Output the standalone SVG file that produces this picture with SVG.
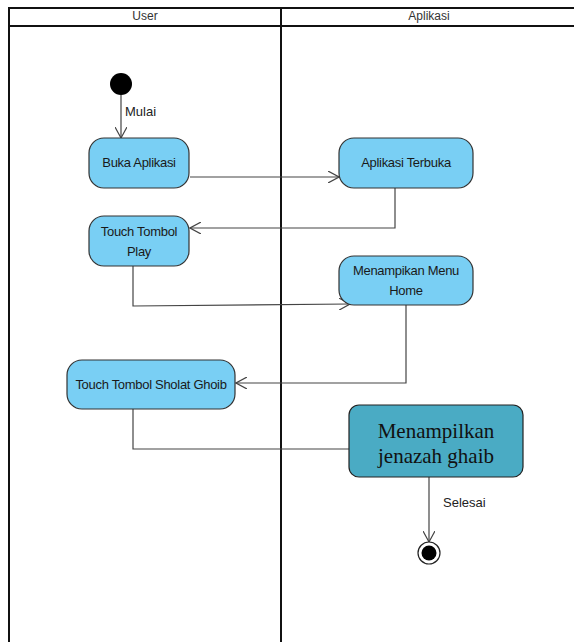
<svg xmlns="http://www.w3.org/2000/svg" width="574" height="642" viewBox="0 0 574 642">
<style>
.lane{fill:none;stroke:#111;stroke-width:2}
.lt{font-family:"Liberation Sans",Arial,sans-serif;font-size:12px;fill:#333;text-anchor:middle}
.node{fill:#79cff4;stroke:#333;stroke-width:1.2}
.nt{font-family:"Liberation Sans",Arial,sans-serif;font-size:13px;fill:#1a1a1a;text-anchor:middle;letter-spacing:-0.3px}
.big{fill:#4aabc4;stroke:#222;stroke-width:1.2}
.bt{font-family:"Liberation Serif","Times New Roman",serif;font-size:21px;fill:#111;text-anchor:middle}
.c{fill:none;stroke:#444;stroke-width:1.2}
.lbl{font-family:"Liberation Sans",Arial,sans-serif;font-size:13px;fill:#222}
</style>
<defs>
<marker id="open" viewBox="0 0 12 12" refX="11" refY="6" markerWidth="12" markerHeight="12" markerUnits="userSpaceOnUse" orient="auto">
<path d="M0,0 L11,6 L0,12" fill="none" stroke="#444" stroke-width="1.2"/>
</marker>
</defs>
<rect width="574" height="642" fill="#fff"/>
<g id="swimlanes">
<path class="lane" d="M9,642 V8 H576 M9,26 H576 M281,8 V642"/>
<text class="lt" x="145" y="20">User</text>
<text class="lt" x="429" y="20">Aplikasi</text>
</g>
<g id="connectors">
<path class="c" d="M121,95 V138" marker-end="url(#open)"/>
<path class="c" d="M190,177 H339" marker-end="url(#open)"/>
<path class="c" d="M395,188 V228 H190" marker-end="url(#open)"/>
<path class="c" d="M133,266 V306 L350,304" marker-end="url(#open)"/>
<path class="c" d="M406,305 V383 H236" marker-end="url(#open)"/>
<path class="c" d="M133,409 V449 H349"/>
<path class="c" d="M429,477 V542" marker-end="url(#open)"/>
<text class="lbl" x="125" y="116">Mulai</text>
<text class="lbl" x="443" y="507">Selesai</text>
</g>
<g id="start"><circle cx="121" cy="84" r="11" fill="#000"/></g>
<g id="buka-aplikasi">
<rect class="node" x="89" y="138" width="100" height="50" rx="15"/>
<text class="nt" x="139" y="167">Buka Aplikasi</text>
</g>
<g id="aplikasi-terbuka">
<rect class="node" x="339" y="138" width="134" height="50" rx="15"/>
<text class="nt" x="406" y="167">Aplikasi Terbuka</text>
</g>
<g id="touch-play">
<rect class="node" x="89" y="216" width="100" height="50" rx="15"/>
<text class="nt" x="139" y="236">Touch Tombol</text>
<text class="nt" x="139" y="256">Play</text>
</g>
<g id="menu-home">
<rect class="node" x="339" y="256" width="134" height="49" rx="15"/>
<text class="nt" x="406" y="275">Menampikan Menu</text>
<text class="nt" x="406" y="295">Home</text>
</g>
<g id="touch-sholat">
<rect class="node" x="67" y="360" width="168" height="49" rx="15"/>
<text class="nt" x="151" y="389">Touch Tombol Sholat Ghoib</text>
</g>
<g id="menampilkan-jenazah">
<rect class="big" x="349" y="405" width="174" height="72" rx="10"/>
<text class="bt" x="436" y="438">Menampilkan</text>
<text class="bt" x="436" y="463">jenazah ghaib</text>
</g>
<g id="end">
<circle cx="429" cy="553" r="11" fill="#fff" stroke="#222" stroke-width="1.2"/>
<circle cx="429" cy="553" r="7.5" fill="#000"/>
</g>
</svg>
